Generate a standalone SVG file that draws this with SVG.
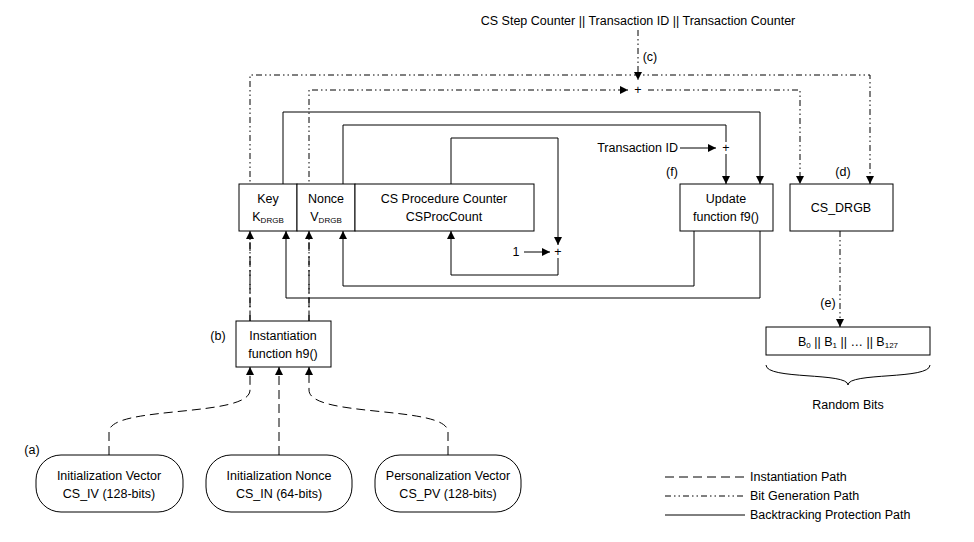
<svg xmlns="http://www.w3.org/2000/svg" width="974" height="542" viewBox="0 0 974 542">
<style>
text{font-family:"Liberation Sans",Arial,sans-serif;font-size:12.5px;fill:#000}
.m{text-anchor:middle}
.box{fill:#fff;stroke:#000;stroke-width:1}
.s{fill:none;stroke:#000;stroke-width:1}
.d{fill:none;stroke:#000;stroke-width:1;stroke-dasharray:9 5}
.dd{fill:none;stroke:#000;stroke-width:1;stroke-dasharray:6 3 1.5 3 1.5 3}
</style>
<defs><marker id="a" viewBox="0 0 10 10" refX="10" refY="5" markerWidth="10" markerHeight="8" markerUnits="userSpaceOnUse" orient="auto"><path d="M0,0L10,5L0,10z" fill="#000"/></marker></defs>
<g id="connectors">
<path class="dd" d="M638,30V80" marker-end="url(#a)"/>
<path class="dd" d="M250,321V75H870V184" marker-end="url(#a)"/>
<path class="dd" d="M309,321V90H628" marker-end="url(#a)"/>
<path class="dd" d="M648,90H800V184" marker-end="url(#a)"/>
<path class="dd" d="M840,231V327" marker-end="url(#a)"/>
<path class="s" d="M283,184V112H760V184" marker-end="url(#a)"/>
<path class="s" d="M343,184V125H726V142"/>
<path class="s" d="M726,154V184" marker-end="url(#a)"/>
<path class="s" d="M680,148H716" marker-end="url(#a)"/>
<path class="s" d="M451,184V138H558V245" marker-end="url(#a)"/>
<path class="s" d="M524,252H550" marker-end="url(#a)"/>
<path class="s" d="M558,258V275H451V231" marker-end="url(#a)"/>
<path class="s" d="M694,231V286H343V231" marker-end="url(#a)"/>
<path class="s" d="M760,231V298H286V231" marker-end="url(#a)"/>
<path class="d" d="M250,321V231" marker-end="url(#a)"/>
<path class="d" d="M309,321V231" marker-end="url(#a)"/>
<path class="d" d="M109,455V432C109,405 250,418 250,390V367" marker-end="url(#a)"/>
<path class="d" d="M279,455V367" marker-end="url(#a)"/>
<path class="d" d="M448,455V432C448,405 309,418 309,390V367" marker-end="url(#a)"/>
<path class="s" d="M766,365C766,380 848,372 848,385C848,372 930,380 930,365"/>
</g>
<g id="labels">
<text x="638" y="25" class="m">CS Step Counter || Transaction ID || Transaction Counter</text>
<text x="650" y="61" class="m">(c)</text>
<text x="638" y="94" class="m">+</text>
<text x="726" y="152" class="m">+</text>
<text x="558" y="256" class="m">+</text>
<text x="516" y="256" class="m">1</text>
<text x="678" y="152" text-anchor="end">Transaction ID</text>
<text x="672" y="176" class="m">(f)</text>
<text x="843" y="176" class="m">(d)</text>
<text x="828" y="307" class="m">(e)</text>
<text x="218" y="340" class="m">(b)</text>
<text x="32" y="454" class="m">(a)</text>
<text x="848" y="409" class="m">Random Bits</text>
</g>
<g id="key"><rect class="box" x="239" y="184" width="58" height="47"/><text x="268" y="203" class="m">Key</text><text x="268" y="221" class="m">K<tspan font-size="8" dy="2">DRGB</tspan></text></g>
<g id="nonce"><rect class="box" x="297" y="184" width="58" height="47"/><text x="326" y="203" class="m">Nonce</text><text x="326" y="221" class="m">V<tspan font-size="8" dy="2">DRGB</tspan></text></g>
<g id="cscounter"><rect class="box" x="355" y="184" width="179" height="47"/><text x="444" y="203" class="m">CS Procedure Counter</text><text x="444" y="221" class="m">CSProcCount</text></g>
<g id="update"><rect class="box" x="680" y="184" width="93" height="47"/><text x="726" y="203" class="m">Update</text><text x="726" y="221" class="m">function f9()</text></g>
<g id="csdrgb"><rect class="box" x="790" y="184" width="103" height="47"/><text x="841" y="212" class="m">CS_DRGB</text></g>
<g id="h9"><rect class="box" x="236" y="321" width="95" height="46"/><text x="283" y="340" class="m">Instantiation</text><text x="283" y="358" class="m">function h9()</text></g>
<g id="bits"><rect class="box" x="766" y="327" width="164" height="28"/><text x="848" y="346" class="m">B<tspan font-size="8" dy="2">0</tspan><tspan dy="-2"> || B</tspan><tspan font-size="8" dy="2">1</tspan><tspan dy="-2"> ||     …     || B</tspan><tspan font-size="8" dy="2">127</tspan></text></g>
<g id="iv"><rect class="box" x="36" y="455" width="147" height="57" rx="25"/><text x="109" y="480" class="m">Initialization Vector</text><text x="109" y="498" class="m">CS_IV (128-bits)</text></g>
<g id="in"><rect class="box" x="206" y="455" width="146" height="57" rx="25"/><text x="279" y="480" class="m">Initialization Nonce</text><text x="279" y="498" class="m">CS_IN (64-bits)</text></g>
<g id="pv"><rect class="box" x="375" y="455" width="146" height="57" rx="25"/><text x="448" y="480" class="m">Personalization Vector</text><text x="448" y="498" class="m">CS_PV (128-bits)</text></g>
<g id="legend">
<path class="d" d="M665,477H745"/><text x="750" y="481">Instantiation Path</text>
<path class="dd" d="M665,496H745"/><text x="750" y="500">Bit Generation Path</text>
<path class="s" d="M665,515H745"/><text x="750" y="519">Backtracking Protection Path</text>
</g>
</svg>
